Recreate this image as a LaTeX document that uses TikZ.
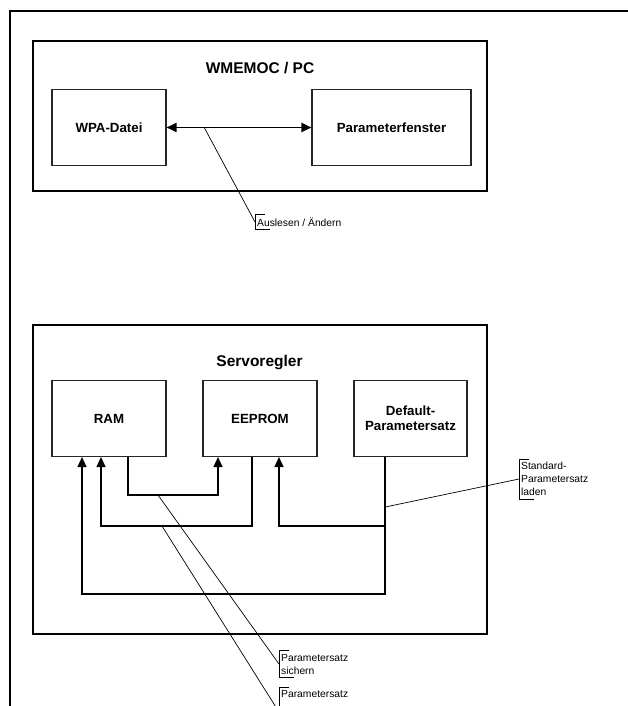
\documentclass[tikz,border=0pt]{standalone}
\usepackage{fontspec}
\setmainfont{Liberation Sans}
\usetikzlibrary{positioning, calc, arrows.meta}

\begin{document}
\begin{tikzpicture}[
    x=1pt, y=1pt,
    align=center,
    block/.style={draw=black!85, rectangle, minimum width=114pt, minimum height=76pt, line width=1.1pt, font=\bfseries\fontsize{13.3}{15}\selectfont},
    group/.style={draw=black, line width=1.6pt},
    title/.style={font=\bfseries\fontsize{15.5}{18}\selectfont},
    arrow/.style={-{Triangle[length=10pt, width=9pt]}, line width=1.5pt},
    dblarrow/.style={{Triangle[length=10pt, width=9pt]}-{Triangle[length=10pt, width=9pt]}, line width=1.8pt},
    note/.style={align=left, anchor=west, inner xsep=2pt, inner ysep=3pt, font=\fontsize{10.3}{13}\selectfont},
    callout/.style={line width=0.7pt}
]
    \useasboundingbox (0,0) rectangle (628,-706);
    \clip (0,0) rectangle (628,-706);

    % outer frame (cut off right and below)
    \draw [line width=2pt] (10,-720) -- (10,-11) -- (640,-11);

    % =========================================================================
    % WMEMOC / PC
    % =========================================================================
    \draw [group] (33,-41) rectangle (487,-191);
    \node (pc_lbl) [title] at (260,-68) {WMEMOC / PC};

    \node (wpa) [block] at (109,-127.5) {WPA-Datei};
    \node (pfenster) [block, minimum width=159pt] at (391.5,-127.5) {Parameterfenster};

    \draw [dblarrow] (wpa) -- (pfenster) coordinate[pos=0.26] (ausl_pt);

    % callout
    \node (ausl_lbl) [note] at (255,-222) {Auslesen / Ändern};
    \draw [callout] (ausl_pt) -- (ausl_lbl.west);
    \draw [callout] ([xshift=10]ausl_lbl.north west) -- (ausl_lbl.north west) -- (ausl_lbl.south west) -- ++(15,0);

    % =========================================================================
    % SERVOREGLER
    % =========================================================================
    \draw [group] (33,-325) rectangle (487,-634);
    \node (servo_lbl) [title] at (259.5,-363) {Servoregler};

    \node (ram) [block] at (109,-418.5) {RAM};
    \node (eeprom) [block] at (260,-418.5) {EEPROM};
    \node (dflt) [block, minimum width=113pt] at (410.5,-418.5) {Default-\\Parametersatz};

    % RAM -> EEPROM
    \draw [arrow] ([xshift=19]ram.south) -- ++(0,-38) coordinate (ram_turn) -| ([xshift=-42]eeprom.south);
    % EEPROM -> RAM
    \draw [arrow] ([xshift=-8]eeprom.south) -- ++(0,-69) coordinate (ee_turn) -| ([xshift=-8]ram.south);
    % Default -> EEPROM / RAM
    \draw [arrow] ([xshift=-25.5]dflt.south) -- ++(0,-69) -| ([xshift=19]eeprom.south);
    \draw [arrow] ([xshift=-25.5]dflt.south) -- ++(0,-137) -| ([xshift=-27]ram.south);

    \coordinate (sich_pt) at ($(ram_turn)+(30,0)$);
    \coordinate (ps_pt) at ($(ee_turn)+(-90,0)$);
    \coordinate (std_pt) at ($(dflt.south)+(-25.5,-50)$);

    % callouts
    \node (std_lbl) [note] at (519,-479) {Standard-\\Parametersatz\\laden};
    \draw [callout] (std_pt) -- (std_lbl.west);
    \draw [callout] ([xshift=10]std_lbl.north west) -- (std_lbl.north west) -- (std_lbl.south west) -- ++(15,0);

    \node (sich_lbl) [note] at (279,-664) {Parametersatz\\sichern};
    \draw [callout] (sich_pt) -- (sich_lbl.west);
    \draw [callout] ([xshift=10]sich_lbl.north west) -- (sich_lbl.north west) -- (sich_lbl.south west) -- ++(15,0);

    \node (ps_lbl) [note, anchor=north west] at (279,-687) {Parametersatz};
    \draw [callout] (ps_pt) -- (279,-712);
    \draw [callout] ([xshift=10]ps_lbl.north west) -- (ps_lbl.north west) -- ++(0,-30);

\end{tikzpicture}
\end{document}
